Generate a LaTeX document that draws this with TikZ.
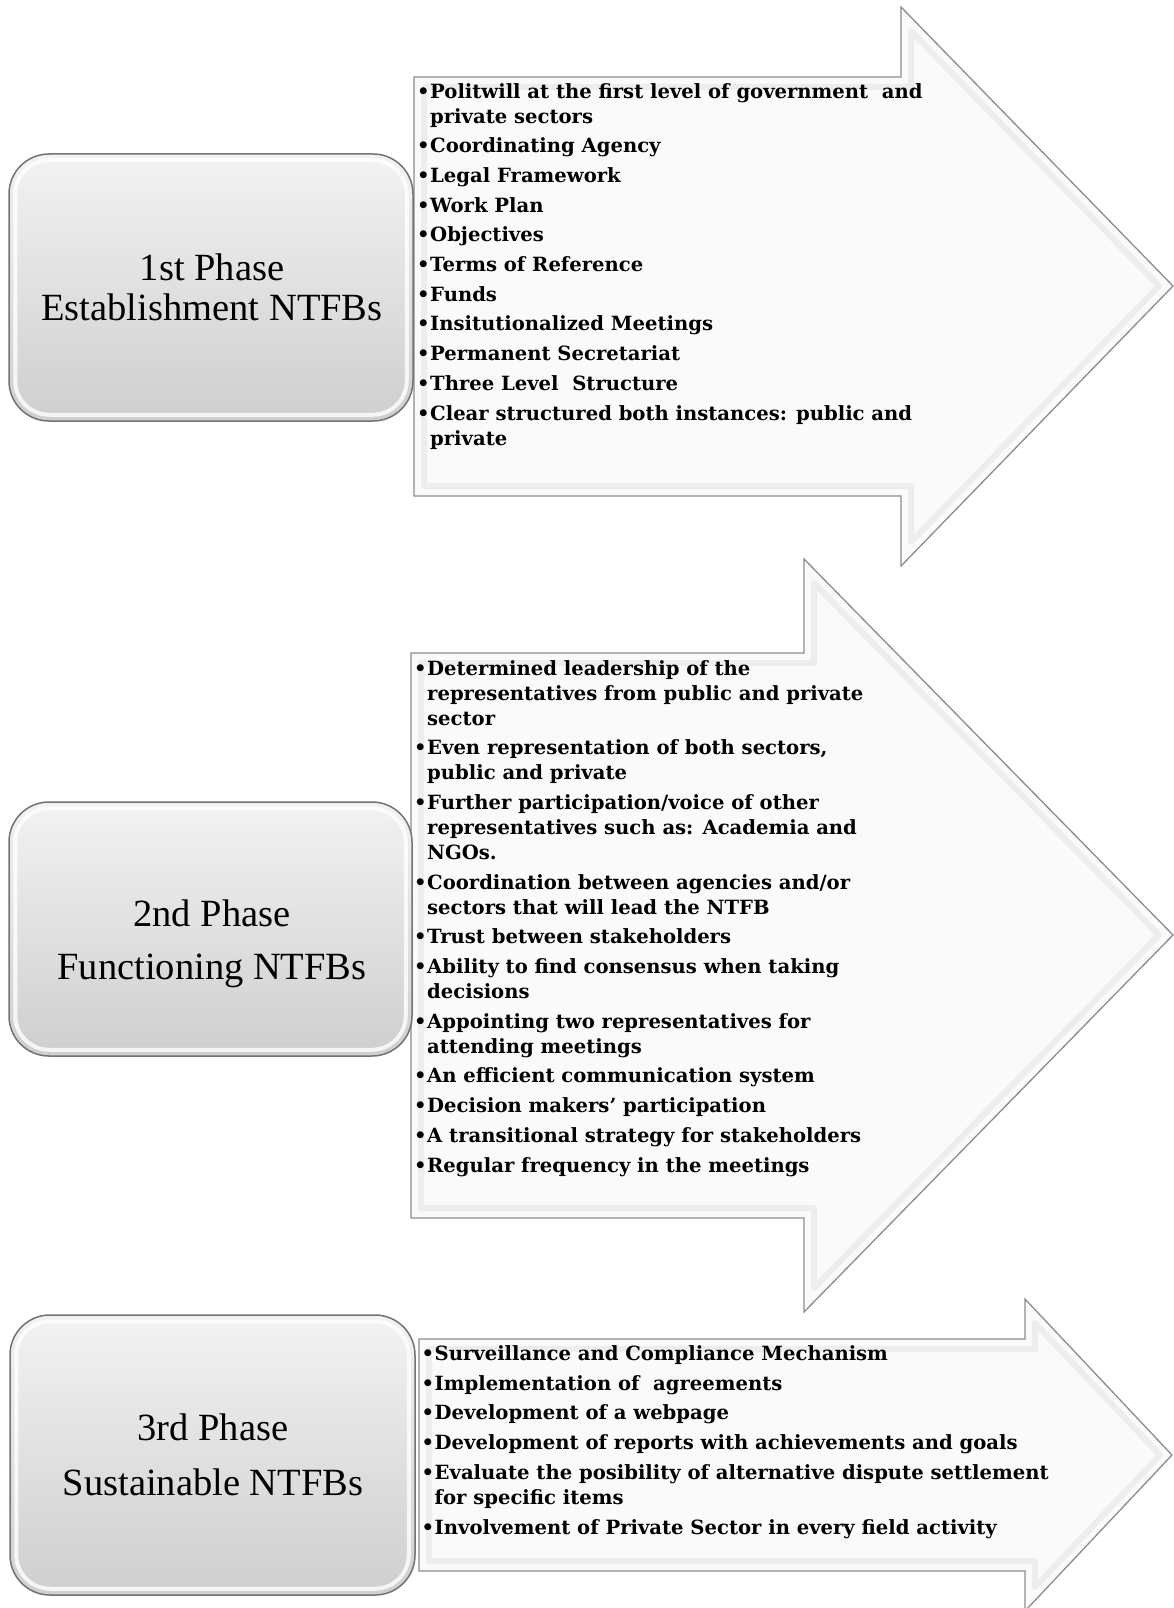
\documentclass[tikz,border=0pt]{standalone}
\usepackage{fontspec}
\setmainfont{Liberation Serif}
\newfontfamily\listfont{DejaVu Serif}
\usetikzlibrary{positioning}
\newcommand{\bul}{\makebox[13pt][l]{\textbullet}}
\newcommand{\cont}{\hspace*{13pt}}
\tikzset{
        % Phase boxes
        node_phase/.style={rounded corners=40pt, draw=black!55, line width=1.5pt, top color=black!5, bottom color=black!19, inner sep=0pt},
        % Bevel inside the phase boxes
        node_bevel/.style={draw=white, line width=4pt, rounded corners=34pt, opacity=0.8},
        % Phase labels
        node_label/.style={align=center, inner sep=0pt, font=\fontsize{38.5}{40}\selectfont},
        % Arrow shapes
        node_arrow/.style={draw=black!45, line width=1.3pt, fill=black!2},
        % Bevel inside the arrows
        arrow_bevel/.style={draw=black!7, line width=6pt, line join=round},
        % Bullet lists (anchored at the last baseline)
        node_list/.style={anchor=base west, inner sep=0pt, align=left, font=\listfont\fontsize{19.6}{25}\selectfont\bfseries}
}
\begin{document}
\begin{tikzpicture}[x=1pt, y=-1pt]
    \useasboundingbox (0,0) rectangle (1174,1608);
    % arrows
    \draw[node_arrow] (414,77) -- (901,77) -- (901,7) -- (1173,286) -- (901,566) -- (901,496) -- (414,496) -- cycle;
    \draw[arrow_bevel] (424,87) -- (911,87) -- (911,31) -- (1159,286) -- (911,542) -- (911,486) -- (424,486) -- cycle;
    \draw[node_arrow] (411,653) -- (804,653) -- (804,559) -- (1173,935) -- (804,1312) -- (804,1218) -- (411,1218) -- cycle;
    \draw[arrow_bevel] (421,663) -- (814,663) -- (814,583) -- (1159,935) -- (814,1288) -- (814,1208) -- (421,1208) -- cycle;
    \draw[node_arrow] (419,1339) -- (1025,1339) -- (1025,1299) -- (1172,1455) -- (1025,1611) -- (1025,1571) -- (419,1571) -- cycle;
    \draw[arrow_bevel] (429,1349) -- (1035,1349) -- (1035,1323) -- (1160,1455) -- (1035,1587) -- (1035,1561) -- (429,1561) -- cycle;
    % phase boxes
    \node[node_phase, minimum width=404pt, minimum height=267pt] (phase1) at (211,287.5) {};
    \node[node_phase, minimum width=403pt, minimum height=254pt] (phase2) at (210.5,929) {};
    \node[node_phase, minimum width=405pt, minimum height=280pt] (phase3) at (212.5,1455) {};
    \draw[node_bevel] ([shift={(7pt,-7pt)}]phase1.north west) rectangle ([shift={(-7pt,7pt)}]phase1.south east);
    \draw[node_bevel] ([shift={(7pt,-7pt)}]phase2.north west) rectangle ([shift={(-7pt,7pt)}]phase2.south east);
    \draw[node_bevel] ([shift={(7pt,-7pt)}]phase3.north west) rectangle ([shift={(-7pt,7pt)}]phase3.south east);
    \node[node_label] (label1) at (212,287.5) {1st Phase\\Establishment NTFBs};
    \node[node_label, font=\fontsize{38.5}{53}\selectfont] (label2) at (212,944) {2nd Phase\\Functioning NTFBs};
    \node[node_label, font=\fontsize{38.5}{55}\selectfont] (label3) at (213,1455) {3rd Phase\\Sustainable NTFBs};
    % lists
    \node[node_list] (list1) at (417,445) {%
        \bul Politwill at the first level of government\ \ and\\
        \cont private sectors\\[4.7pt]
        \bul Coordinating Agency\\[4.7pt]
        \bul Legal Framework\\[4.7pt]
        \bul Work Plan\\[4.7pt]
        \bul Objectives\\[4.7pt]
        \bul Terms of Reference\\[4.7pt]
        \bul Funds\\[4.7pt]
        \bul Insitutionalized Meetings\\[4.7pt]
        \bul Permanent Secretariat\\[4.7pt]
        \bul Three Level\ \ Structure\\[4.7pt]
        \bul Clear structured both instances: public and\\
        \cont private};
    \node[node_list] (list2) at (414,1172) {%
        \bul Determined leadership of the\\
        \cont representatives from public and private\\
        \cont sector\\[4.7pt]
        \bul Even representation of both sectors,\\
        \cont public and private\\[4.7pt]
        \bul Further participation/voice of other\\
        \cont representatives such as: Academia and\\
        \cont NGOs.\\[4.7pt]
        \bul Coordination between agencies and/or\\
        \cont sectors that will lead the NTFB\\[4.7pt]
        \bul Trust between stakeholders\\[4.7pt]
        \bul Ability to find consensus when taking\\
        \cont decisions\\[4.7pt]
        \bul Appointing two representatives for\\
        \cont attending meetings\\[4.7pt]
        \bul An efficient communication system\\[4.7pt]
        \bul Decision makers’ participation\\[4.7pt]
        \bul A transitional strategy for stakeholders\\[4.7pt]
        \bul Regular frequency in the meetings};
    \node[node_list] (list3) at (421.5,1534) {%
        \bul Surveillance and Compliance Mechanism\\[4.7pt]
        \bul Implementation of\ \ agreements\\[4.7pt]
        \bul Development of a webpage\\[4.7pt]
        \bul Development of reports with achievements and goals\\[4.7pt]
        \bul Evaluate the posibility of alternative dispute settlement\\
        \cont for specific items\\[4.7pt]
        \bul Involvement of Private Sector in every field activity};
\end{tikzpicture}
\end{document}
